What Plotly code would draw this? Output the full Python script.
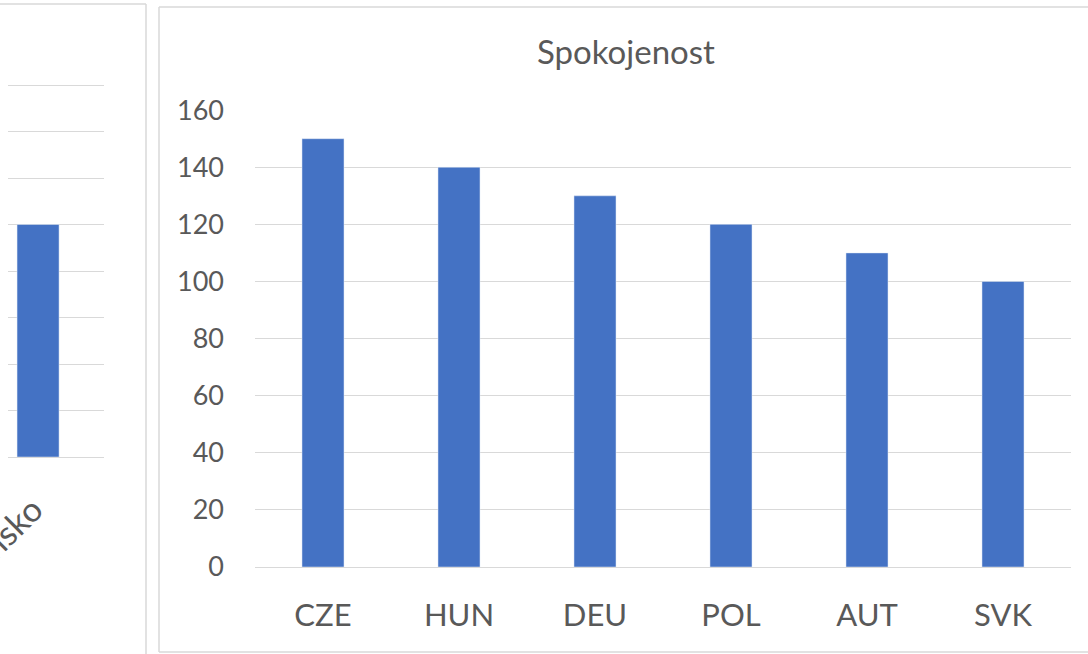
import plotly.graph_objects as go

# Data
categories = ["CZE", "HUN", "DEU", "POL", "AUT", "SVK"]
values = [150, 140, 130, 120, 110, 100]
categories_cz = ["Česko", "Maďarsko", "Německo", "Polsko", "Rakousko", "Slovensko"]
values_cz = [150, 140, 130, 120, 110, 100]
y_ticks = [0, 20, 40, 60, 80, 100, 120, 140, 160]
title_text = "Spokojenost"

W, H = 1088, 654
BAR = "#4472C4"
GRID = "#d9d9d9"
TXT = "#595959"
FONT = "Lato"

def px_x(p):
    return p / W

def px_y(p):
    return 1 - p / H

fig = go.Figure()

# Left (partially visible) chart
fig.add_trace(go.Bar(x=categories_cz, y=values_cz, marker_color=BAR,
                     xaxis="x2", yaxis="y2", showlegend=False, hoverinfo="skip"))
# Main chart
fig.add_trace(go.Bar(x=categories, y=values, marker_color=BAR,
                     xaxis="x", yaxis="y", showlegend=False))

# left chart: 0 at y=457px, 20 units per 46.5px
y2_top_val = 166
y2_top_px = 457 - 46.5 * y2_top_val / 20

fig.update_layout(
    width=W, height=H, autosize=False,
    margin=dict(l=0, r=0, t=0, b=0, pad=0),
    paper_bgcolor="white", plot_bgcolor="white",
    bargap=0.691,
    font=dict(family=FONT, color=TXT),
    xaxis=dict(domain=[px_x(255), px_x(1071)], anchor="y", type="category",
               range=[-0.5, 5.5], showgrid=False, showline=False, ticks="",
               automargin=False,
               tickfont=dict(size=31, color=TXT), ticklabelstandoff=27),
    yaxis=dict(domain=[px_y(567), px_y(110)], anchor="x", range=[0, 160.05],
               tickvals=y_ticks, showgrid=True, gridcolor=GRID, gridwidth=1.3,
               zeroline=True, zerolinecolor=GRID, zerolinewidth=1.3,
               showline=False, ticks="", automargin=False,
               tickfont=dict(size=27, color=TXT), ticklabelstandoff=30),
    xaxis2=dict(domain=[px_x(8), px_x(104)], anchor="y2", type="category",
                range=[4.779, 5.485], showgrid=False, showline=False, ticks="",
                automargin=False, ticklabelshift=-5,
                tickangle=-45, tickfont=dict(size=34, color=TXT), ticklabelstandoff=25),
    yaxis2=dict(domain=[px_y(457), px_y(y2_top_px)], anchor="x2", range=[0, y2_top_val],
                tickvals=y_ticks, showgrid=True, gridcolor=GRID, gridwidth=1.3,
                zeroline=True, zerolinecolor=GRID, zerolinewidth=1.3,
                showline=False, ticks="", showticklabels=False, automargin=False),
)

# Chart borders
border = dict(color=GRID, width=1.5)
shapes = [
    # left chart box (right and top edges visible)
    dict(type="line", xref="paper", yref="paper", x0=px_x(146), x1=px_x(146), y0=px_y(4), y1=px_y(700), line=border),
    dict(type="line", xref="paper", yref="paper", x0=px_x(-10), x1=px_x(146), y0=px_y(4), y1=px_y(4), line=border),
    # main chart box
    dict(type="line", xref="paper", yref="paper", x0=px_x(159), x1=px_x(159), y0=px_y(7), y1=px_y(652), line=border),
    dict(type="line", xref="paper", yref="paper", x0=px_x(159), x1=px_x(1100), y0=px_y(7), y1=px_y(7), line=border),
    dict(type="line", xref="paper", yref="paper", x0=px_x(159), x1=px_x(1100), y0=px_y(652), y1=px_y(652), line=border),
]
fig.update_layout(shapes=shapes)

fig.add_annotation(text=title_text, xref="paper", yref="paper",
                   x=px_x(626), y=px_y(51), xanchor="center", yanchor="middle",
                   showarrow=False, font=dict(size=33, color=TXT, family=FONT))

fig.write_html("out.html", config={"displayModeBar": False},
               post_script="document.body.style.margin='0';document.body.style.overflow='hidden';")
